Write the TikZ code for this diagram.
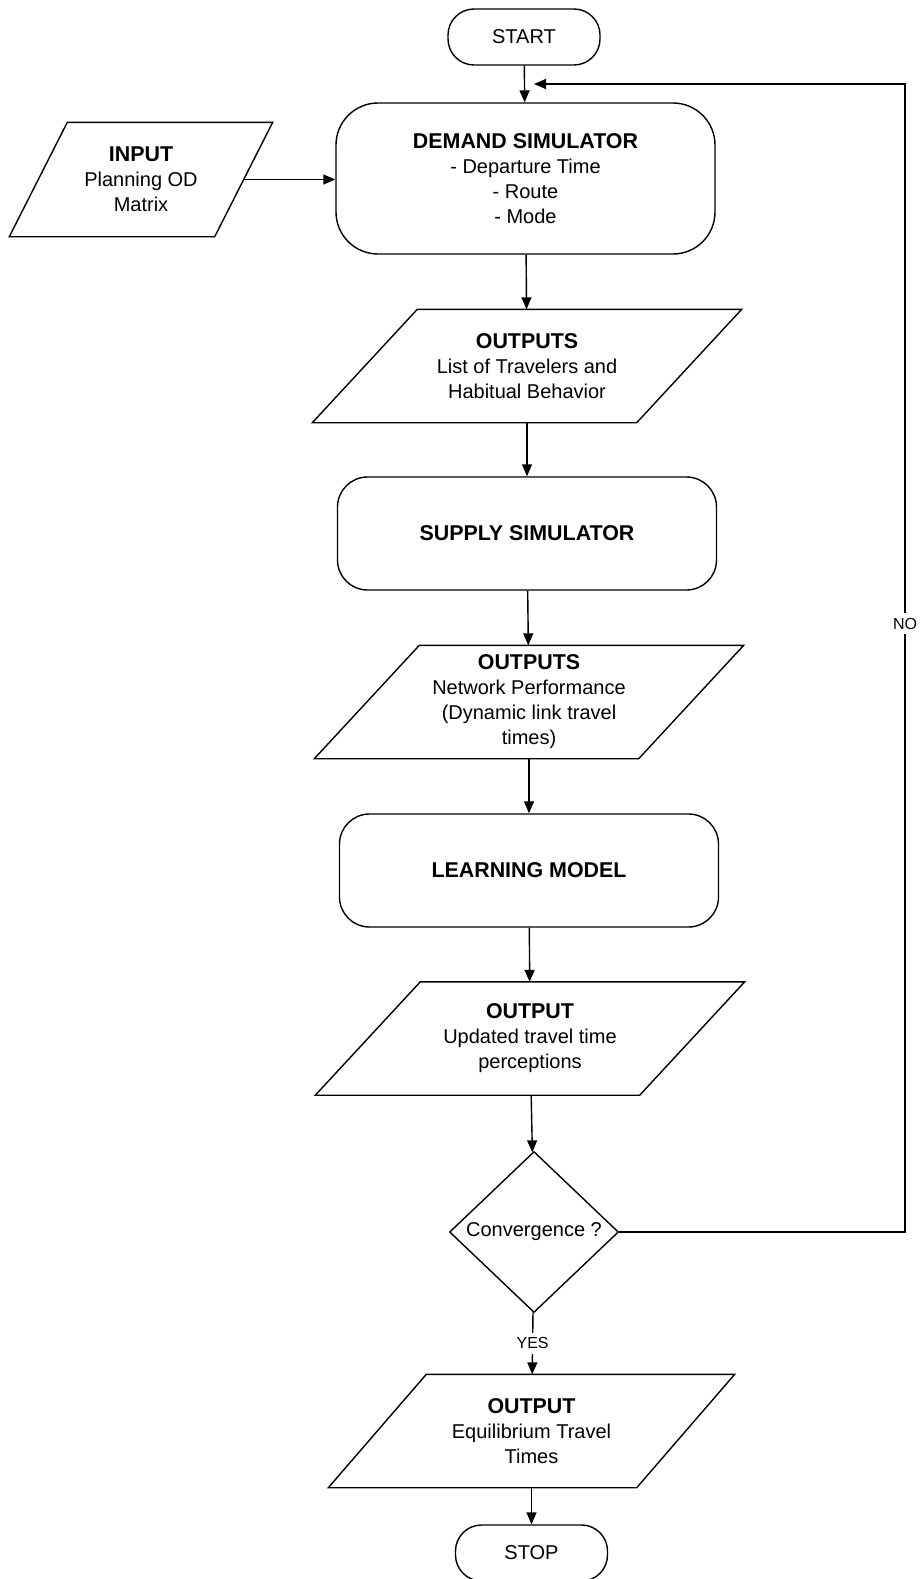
\documentclass[tikz,border=0pt]{standalone}
\usepackage{fontspec}
\setmainfont{Liberation Sans}
\usetikzlibrary{shapes.geometric,arrows.meta,calc}
\newcommand{\hd}[1]{{\fontsize{10.7}{12.5}\selectfont\bfseries #1}}

\begin{document}
\begin{tikzpicture}[x=0.5pt,y=-0.5pt,line width=0.7pt,>={Triangle[length=6pt,width=5pt]}]
	\tikzstyle{terminal} = [draw, rounded corners=13pt, minimum width=76pt, minimum height=28pt, inner sep=0pt]
	\tikzstyle{process} = [draw, rounded corners=15pt, minimum width=189.5pt, minimum height=56.5pt, align=center, inner sep=0pt]
	\tikzstyle{io} = [minimum width=214pt, minimum height=56pt, align=center, inner sep=0pt]
	\tikzstyle{decision} = [draw, diamond, minimum width=84.5pt, minimum height=80.5pt, inner sep=0pt]
	\tikzstyle{tag} = [fill=white, font=\fontsize{8}{9}\selectfont, inner sep=2.5pt]
	\useasboundingbox (0,0) rectangle (923,1579);
	\begin{scope}[font=\fontsize{10}{12.5}\selectfont]
	\node[terminal] (start) at (524,37) {START};
	\node[process, minimum height=75.5pt, rounded corners=21pt] (demand) at (525.5,178.5) {\hd{DEMAND SIMULATOR}\\- Departure Time\\- Route\\- Mode};
	\node[io, minimum width=131pt, minimum height=56.5pt] (input) at (141,179.5) {\hd{INPUT}\\Planning OD\\Matrix};
	\node[io] (outputs) at (527,366) {\hd{OUTPUTS}\\List of Travelers and\\Habitual Behavior};
	\node[process] (supply) at (527,533.5) {\hd{SUPPLY SIMULATOR}};
	\node[io] (perform) at (529,702) {\hd{OUTPUTS}\\Network Performance\\(Dynamic link travel\\times)};
	\node[process] (learning) at (529,870.5) {\hd{LEARNING MODEL}};
	\node[io] (updated) at (530,1038.5) {\hd{OUTPUT}\\Updated travel time\\perceptions};
	\node[decision] (conv) at (534,1232) {Convergence ?};
	\node[io, minimum width=202.5pt] (equil) at (531.5,1431) {\hd{OUTPUT}\\Equilibrium Travel\\Times};
	\node[terminal] (stop) at (531.5,1553) {STOP};
	\end{scope}
	\foreach \n/\s in {input/29, outputs/52.5, perform/52.5, updated/52.5, equil/49}
		\draw ($(\n.north west)+(\s pt,0pt)$) -- (\n.north east) -- ($(\n.south east)-(\s pt,0pt)$) -- (\n.south west) -- cycle;
	\coordinate (inright) at ($(input.east)-(14.5pt,0pt)$);
	\coordinate (turn) at (905,84);
	\coordinate (join) at (534,84);
	\draw[->] (start) -- (demand);
	\draw[->] (inright) -- (inright -| demand.west);
	\draw[->] (demand) -- (outputs);
	\draw[->] (outputs) -- (supply);
	\draw[->] (supply) -- (perform);
	\draw[->] (perform) -- (learning);
	\draw[->] (learning) -- (updated);
	\draw[->] (updated) -- (conv);
	\draw[->] (conv) -- node[tag] {YES} (equil);
	\draw[->] (equil) -- (stop);
	\draw[->] (conv.east) -- (conv.east -| turn) -- node[tag, pos=0.53] {NO} (turn) -- (join);
\end{tikzpicture}
\end{document}
